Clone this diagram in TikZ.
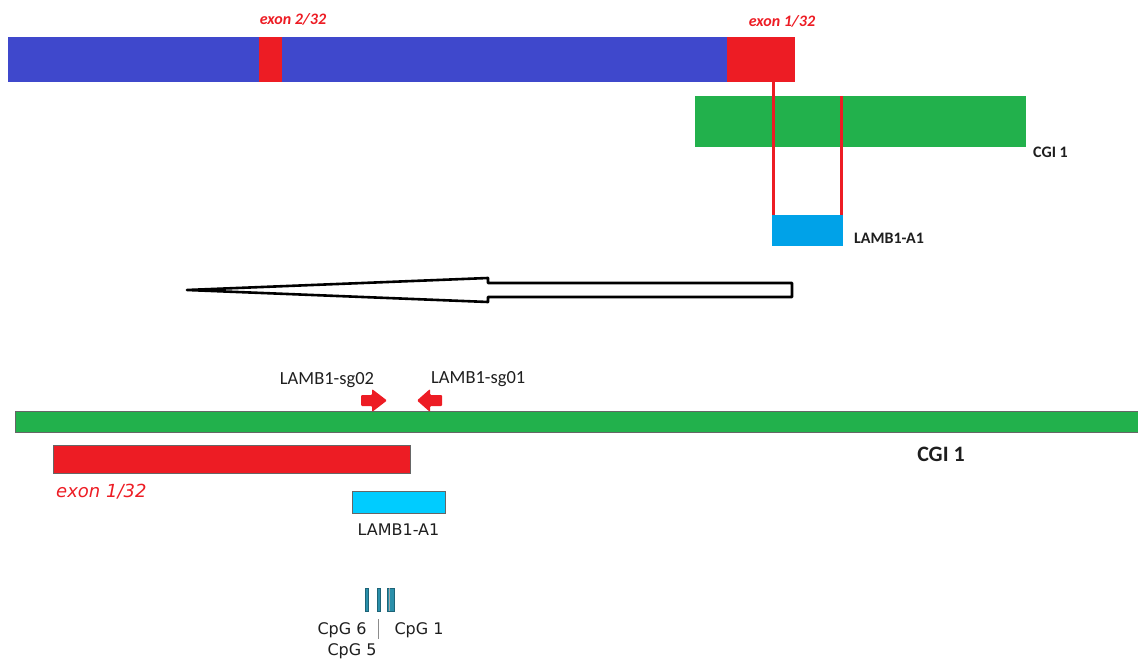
\documentclass[tikz,border=0pt]{standalone}
\usepackage{fontspec}
\setmainfont{Carlito}
\newfontfamily\verdana{DejaVu Sans}
\usepackage{tikz}
\usetikzlibrary{positioning}

\definecolor{genome}{HTML}{3F48CC}
\definecolor{exonred}{HTML}{ED1C24}
\definecolor{cgigreen}{HTML}{22B14C}
\definecolor{ampblue}{HTML}{00A2E8}
\definecolor{amplight}{HTML}{00CCFF}
\definecolor{cpgteal}{HTML}{2A8FAA}
\definecolor{txt}{HTML}{1E1E1E}

\tikzset{
 box/.style = {rectangle, inner sep=0pt, outer sep=0pt, anchor=north west},
 edgebox/.style = {box, draw=black!60, line width=0.8pt},
 probe/.style = {exonred, line width=3pt},
 toplbl/.style = {inner sep=0pt, font=\fontsize{16}{19}\selectfont\bfseries, text=txt},
 sglbl/.style = {inner sep=0pt, font=\fontsize{18.5}{22}\selectfont, text=txt},
 vlbl/.style = {inner sep=0pt, font=\verdana\fontsize{16}{19}\selectfont, text=txt},
 cpgbar/.style = {rectangle, inner sep=0pt, fill=cpgteal, draw=cpgteal!70!black,
  line width=0.4pt, minimum height=23pt},
 sgarrow/.style = {fill=exonred, rounded corners=1pt}
}

\begin{document}
\begin{tikzpicture}[x=1pt,y=-1pt]
\useasboundingbox (0,0) rectangle (1138,660);

% gene overview
\node[box, fill=genome, minimum width=719, minimum height=45] (gene) at (8,37) {};
\node[box, fill=exonred, minimum width=23, minimum height=45] (exontwo) at (259,37) {};
\node[box, fill=exonred, minimum width=68, minimum height=45] (exonone) at (727,37) {};

\node[toplbl, text=exonred, font=\fontsize{16}{19}\selectfont\bfseries\itshape] (exontwolbl) at (293,19) {exon 2/32};
\node[toplbl, text=exonred, font=\fontsize{16}{19}\selectfont\bfseries\itshape] (exononelbl) at (782,21) {exon 1/32};

\node[box, fill=cgigreen, minimum width=331, minimum height=51] (cgi) at (695,96) {};
\node[toplbl, anchor=west] (cgilbl) at (1033,152) {CGI 1};

\node[box, fill=ampblue, minimum width=71, minimum height=31] (amp) at (772,215) {};
\node[toplbl, anchor=west] (amplbl) at (854,238) {LAMB1-A1};

\draw[probe] ([xshift=1.5pt]amp.north west) -- ([xshift=1.5pt]amp.north west |- exonone.south);
\draw[probe] ([xshift=-1.5pt]amp.north east) -- ([xshift=-1.5pt]amp.north east |- cgi.north);

% direction of transcription
\draw[line width=2.6pt, line join=round, fill=white]
 (187,290) -- (488,278) -- (488,283) -- (792,283) -- (792,297) -- (488,297) -- (488,302) -- cycle;

% zoom on the CpG island
\node[edgebox, fill=cgigreen, minimum width=1126, minimum height=21] (cgibar) at (15,411) {};
\node[sglbl, font=\fontsize{22}{26}\selectfont\bfseries] (cgibarlbl) at (941,454) {CGI 1};

\fill[sgarrow] (361,395) -- (372,395) -- (372,389) -- (387,400.5) -- (372,412) -- (372,406) -- (361,406) -- cycle;
\fill[sgarrow] (442,395) -- (430,395) -- (430,389) -- (417,400.5) -- (430,412) -- (430,406) -- (442,406) -- cycle;
\node[sglbl] (sgtwo) at (327,380) {LAMB1-sg02};
\node[sglbl, anchor=west] (sgone) at (431,379) {LAMB1-sg01};

\node[edgebox, fill=exonred, minimum width=357, minimum height=28] (exonbar) at (53,445) {};
\node[vlbl, text=exonred, font=\verdana\fontsize{18}{22}\selectfont\itshape, anchor=west] (exonbarlbl) at (56,492) {exon 1/32};

\node[edgebox, fill=amplight, minimum width=93, minimum height=22] (ampbar) at (352,491) {};
\node[vlbl, below=11pt of ampbar] (ampbarlbl) {LAMB1-A1};

% CpG sites
\node[cpgbar, minimum width=3] (cpgsix) at (366.5,599.5) {};
\node[cpgbar, minimum width=3] (cpgfive) at (378.5,599.5) {};
\node[cpgbar, minimum width=7] (cpgone) at (390.5,599.5) {};
\draw[black!35, line width=0.6pt] (389.5,588) -- (389.5,611);
\draw[black!45, line width=0.8pt] (378,619) -- (378,639);
\node[vlbl] (cpgsixlbl) at (342,630) {CpG 6};
\node[vlbl] (cpgonelbl) at (419,630) {CpG 1};
\node[vlbl] (cpgfivelbl) at (352,651) {CpG 5};
\end{tikzpicture}
\end{document}
